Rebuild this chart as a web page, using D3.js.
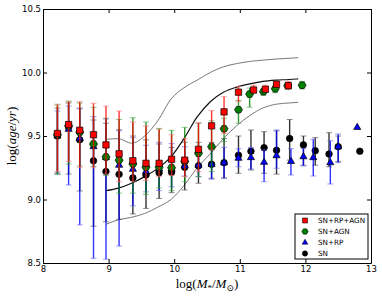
<!DOCTYPE html>
<html>
<head>
<meta charset="utf-8">
<script src="https://cdn.jsdelivr.net/npm/d3@7"></script>
<style>
  body { margin: 0; background: #fff; }
  svg { display: block; }
</style>
</head>
<body>
<svg id="chart" width="382" height="298"></svg>
<script>
// SN+RP+AGN
var massRPAGN = [8.22, 8.39, 8.56, 8.77, 8.96, 9.16, 9.37, 9.57, 9.77, 9.96, 10.16, 10.37, 10.57, 10.76, 10.98, 11.21, 11.39, 11.56, 11.74];
var ageRPAGN  = [9.52, 9.59, 9.545, 9.51, 9.43, 9.36, 9.305, 9.285, 9.285, 9.317, 9.31, 9.395, 9.58, 9.69, 9.845, 9.862, 9.868, 9.907, 9.896];
var hiRPAGN   = [9.744, 9.77, 9.77, 9.757, 9.736, 9.697, 9.61, 9.58, 9.553, 9.51, 9.48, 9.605, 9.7, 9.81, 9.89, 9.9, 9.9, 9.93, 9.93];
var loRPAGN   = [9.22, 9.3, 9.25, 9.25, 9.2, 9.14, 9.14, 9.15, 9.18, 9.19, 9.18, 9.22, 9.39, 9.52, 9.77, 9.84, 9.845, 9.88, 9.87];

// SN+AGN
var massAGN = [8.22, 8.39, 8.56, 8.77, 8.96, 9.16, 9.37, 9.57, 9.77, 9.96, 10.16, 10.37, 10.57, 10.76, 10.98, 11.15, 11.36, 11.54, 11.73, 11.95];
var ageAGN  = [9.51, 9.58, 9.53, 9.437, 9.335, 9.31, 9.28, 9.254, 9.254, 9.25, 9.30, 9.364, 9.416, 9.557, 9.707, 9.83, 9.849, 9.872, 9.896, 9.9];
var hiAGN   = [9.75, 9.775, 9.76, 9.726, 9.64, 9.63, 9.644, 9.61, 9.56, 9.545, 9.568, 9.6, 9.62, 9.64, 9.78, 9.878, 9.87, 9.89, 9.91, 9.93];
var loAGN   = [9.2, 9.28, 9.264, 9.26, 9.19, 9.05, 9.05, 9.04, 9.09, 9.07, 9.14, 9.18, 9.22, 9.455, 9.6, 9.727, 9.82, 9.84, 9.87, 9.87];

// SN+RP
var massRP = [8.22, 8.39, 8.56, 8.77, 8.96, 9.16, 9.37, 9.57, 9.77, 9.96, 10.16, 10.37, 10.57, 10.76, 10.98, 11.17, 11.37, 11.56, 11.78, 11.97, 12.12, 12.38, 12.5, 12.79];
var ageRP  = [9.5, 9.553, 9.48, 9.416, 9.33, 9.27, 9.238, 9.22, 9.24, 9.24, 9.264, 9.27, 9.277, 9.29, 9.325, 9.33, 9.293, 9.345, 9.30, 9.337, 9.33, 9.29, 9.416, 9.568];
var hiRP   = [9.697, 9.736, 9.713, 9.652, 9.634, 9.54, 9.487, 9.427, 9.45, 9.44, 9.416, 9.41, 9.4, 9.41, 9.4, 9.41, 9.39, 9.547, 9.4, 9.4, 9.474, 9.463, 9.516, null];
var loRP   = [9.21, 9.114, 8.8, 8.537, 8.53, 8.634, 8.95, 9.06, 9.07, 9.1, 9.185, 9.18, 9.16, 9.17, 9.258, 9.24, 9.14, 9.246, 9.193, 9.264, 9.185, 9.122, 9.29, null];

// SN
var massSN = [8.22, 8.39, 8.56, 8.77, 8.96, 9.16, 9.37, 9.57, 9.77, 9.96, 10.16, 10.37, 10.57, 10.76, 10.98, 11.17, 11.37, 11.56, 11.76, 11.97, 12.15, 12.36, 12.5, 12.83];
var ageSN  = [9.5, 9.57, 9.47, 9.305, 9.22, 9.198, 9.17, 9.193, 9.21, 9.214, 9.253, 9.265, 9.277, 9.29, 9.348, 9.38, 9.408, 9.387, 9.48, 9.43, 9.384, 9.358, 9.416, 9.38];
var hiSN   = [9.72, 9.76, 9.72, 9.626, 9.6, 9.55, 9.5, 9.47, 9.437, 9.41, 9.45, 9.45, 9.45, 9.48, 9.5, 9.547, 9.534, 9.54, 9.63, 9.5, 9.487, 9.526, 9.5, null];
var loSN   = [9.2, 9.2, 9.067, 8.79, 8.825, 8.844, 8.886, 8.93, 9.008, 9.054, 9.075, 9.128, 9.167, 9.167, 9.206, 9.232, 9.206, 9.2, 9.31, 9.27, 9.27, 9.258, 9.3, null];

// reference relation (median and scatter)
var relMass = [8.96, 9.15, 9.35, 9.55, 9.75, 9.95, 10.15, 10.35, 10.55, 10.75, 10.95, 11.15, 11.35, 11.55, 11.75, 11.89];
var relMid  = [9.07, 9.09, 9.128, 9.18, 9.245, 9.335, 9.48, 9.65, 9.77, 9.845, 9.885, 9.91, 9.93, 9.94, 9.945, 9.95];
var relHi   = [9.474, 9.479, 9.443, 9.50, 9.62, 9.79, 9.88, 9.94, 10.0, 10.045, 10.07, 10.087, 10.097, 10.106, 10.112, 10.117];
var relLo   = [8.805, 8.84, 8.86, 8.89, 8.94, 9.0, 9.11, 9.25, 9.36, 9.48, 9.58, 9.66, 9.72, 9.75, 9.76, 9.765];

var xTicks = [8, 9, 10, 11, 12, 13];
var yTicks = [8.5, 9.0, 9.5, 10.0, 10.5];

var svg = d3.select("#chart"),
    margin = {top: 9, right: 11, bottom: 35, left: 43},
    width = +svg.attr("width") - margin.left - margin.right,
    height = +svg.attr("height") - margin.top - margin.bottom,
    g = svg.append("g").attr("transform", "translate(" + margin.left + "," + margin.top + ")");

var x = d3.scaleLinear().domain([8, 13]).range([0, width]);
var y = d3.scaleLinear().domain([8.5, 10.5]).range([height, 0]);

function zip(m, a, hi, lo) {
    return m.map(function(d, i) { return {m: d, a: a[i], hi: hi[i], lo: lo[i]}; });
}

function hexagon(r) {
    var pts = d3.range(6).map(function(i) {
        var t = i * Math.PI / 3;
        return [r * Math.cos(t), r * 0.95 * Math.sin(t)];
    });
    return "M" + pts.join("L") + "Z";
}

var series = [
    {name: "SN", color: "#000000", cap: "#444444", data: zip(massSN, ageSN, hiSN, loSN),
     shape: d3.symbol().type(d3.symbolCircle).size(34)()},
    {name: "SN+RP", color: "#0000ff", cap: "#5b5bff", data: zip(massRP, ageRP, hiRP, loRP),
     shape: d3.symbol().type(d3.symbolTriangle).size(22)()},
    {name: "SN+AGN", color: "#008000", cap: "#3aa03a", data: zip(massAGN, ageAGN, hiAGN, loAGN),
     shape: hexagon(4)},
    {name: "SN+RP+AGN", color: "#ff0000", cap: "#ff7070", data: zip(massRPAGN, ageRPAGN, hiRPAGN, loRPAGN),
     shape: d3.symbol().type(d3.symbolSquare).size(40)()}
];

// relation curves
var line = d3.line()
    .x(function(d) { return x(d[0]); })
    .y(function(d) { return y(d[1]); })
    .curve(d3.curveMonotoneX);

[[relHi, "#6a6a6a", 0.9], [relLo, "#6a6a6a", 0.9], [relMid, "#111", 1.2]].forEach(function(c) {
    g.append("path")
        .datum(relMass.map(function(m, i) { return [m, c[0][i]]; }))
        .attr("fill", "none")
        .attr("stroke", c[1])
        .attr("stroke-width", c[2])
        .attr("d", line);
});

// error bars and markers
series.forEach(function(s) {
    var withErr = s.data.filter(function(d) { return d.hi != null; });
    var eb = g.append("g").attr("class", "err");

    eb.selectAll("line.bar").data(withErr).enter().append("line")
        .attr("class", "bar")
        .attr("x1", function(d) { return x(d.m); })
        .attr("x2", function(d) { return x(d.m); })
        .attr("y1", function(d) { return y(d.lo); })
        .attr("y2", function(d) { return y(d.hi); })
        .attr("stroke", s.color)
        .attr("stroke-opacity", 0.8)
        .attr("stroke-width", 1.4);

    ["lo", "hi"].forEach(function(k) {
        eb.selectAll("line.cap" + k).data(withErr).enter().append("line")
            .attr("class", "cap" + k)
            .attr("x1", function(d) { return x(d.m) - 3; })
            .attr("x2", function(d) { return x(d.m) + 3; })
            .attr("y1", function(d) { return y(d[k]); })
            .attr("y2", function(d) { return y(d[k]); })
            .attr("stroke", s.cap)
            .attr("stroke-opacity", 0.6)
            .attr("stroke-width", 1);
    });

    g.append("g").selectAll("path").data(s.data).enter().append("path")
        .attr("transform", function(d) { return "translate(" + x(d.m) + "," + y(d.a) + ")"; })
        .attr("d", s.shape)
        .attr("fill", s.color)
        .attr("stroke", "#000")
        .attr("stroke-width", 0.7);
});

// axes, ticks pointing inward on all sides
var tickFont = "DejaVu Sans, sans-serif";

g.append("g")
    .attr("transform", "translate(0," + height + ")")
    .call(d3.axisBottom(x).tickValues(xTicks).tickFormat(d3.format("d")).tickSizeInner(-4).tickSizeOuter(0).tickPadding(3));

g.append("g")
    .call(d3.axisLeft(y).tickValues(yTicks).tickFormat(d3.format(".1f")).tickSizeInner(-4).tickSizeOuter(0).tickPadding(2));

g.append("g")
    .call(d3.axisTop(x).tickValues(xTicks).tickFormat("").tickSizeInner(-4).tickSizeOuter(0));

g.append("g")
    .attr("transform", "translate(" + width + ",0)")
    .call(d3.axisRight(y).tickValues(yTicks).tickFormat("").tickSizeInner(-4).tickSizeOuter(0));

g.selectAll(".tick text")
    .attr("font-family", tickFont)
    .attr("font-size", 8.5)
    .attr("fill", "#000");
g.selectAll(".domain").attr("stroke", "#000").attr("stroke-width", 1);

// axis labels
var serif = "Liberation Serif, DejaVu Serif, serif";

var xl = svg.append("text")
    .attr("x", margin.left + width / 2)
    .attr("y", 288)
    .attr("text-anchor", "middle")
    .attr("font-family", serif)
    .attr("font-size", 13);
xl.append("tspan").text("log(");
xl.append("tspan").attr("font-style", "italic").text("M");
xl.append("tspan").attr("font-size", 9).attr("dy", 3).text("*");
xl.append("tspan").attr("dy", -3).text("/");
xl.append("tspan").attr("font-style", "italic").text("M");
xl.append("tspan").attr("font-size", 9).attr("dy", 3).text("\u2299");
xl.append("tspan").attr("dy", -3).text(")");

var yl = svg.append("text")
    .attr("transform", "translate(16," + (margin.top + height / 2) + ") rotate(-90)")
    .attr("text-anchor", "middle")
    .attr("font-family", serif)
    .attr("font-size", 13);
yl.append("tspan").text("log(");
yl.append("tspan").attr("font-style", "italic").text("age");
yl.append("tspan").text("/");
yl.append("tspan").attr("font-style", "italic").text("yr");
yl.append("tspan").text(")");

// legend
var legendOrder = [series[3], series[2], series[1], series[0]];
var lg = svg.append("g").attr("transform", "translate(295,214)");
lg.append("rect")
    .attr("width", 73)
    .attr("height", 45)
    .attr("fill", "#fff")
    .attr("stroke", "#000")
    .attr("stroke-width", 1);

var rows = lg.selectAll("g.row").data(legendOrder).enter().append("g")
    .attr("class", "row")
    .attr("transform", function(d, i) { return "translate(0," + (6.5 + i * 11) + ")"; });

rows.append("path")
    .attr("transform", "translate(10,0) scale(0.8)")
    .attr("d", function(d) { return d.shape; })
    .attr("fill", function(d) { return d.color; })
    .attr("stroke", "#000")
    .attr("stroke-width", 0.7);

rows.append("text")
    .attr("x", 23)
    .attr("dy", "0.35em")
    .attr("font-family", tickFont)
    .attr("font-size", 7.2)
    .text(function(d) { return d.name; });
</script>
</body>
</html>
